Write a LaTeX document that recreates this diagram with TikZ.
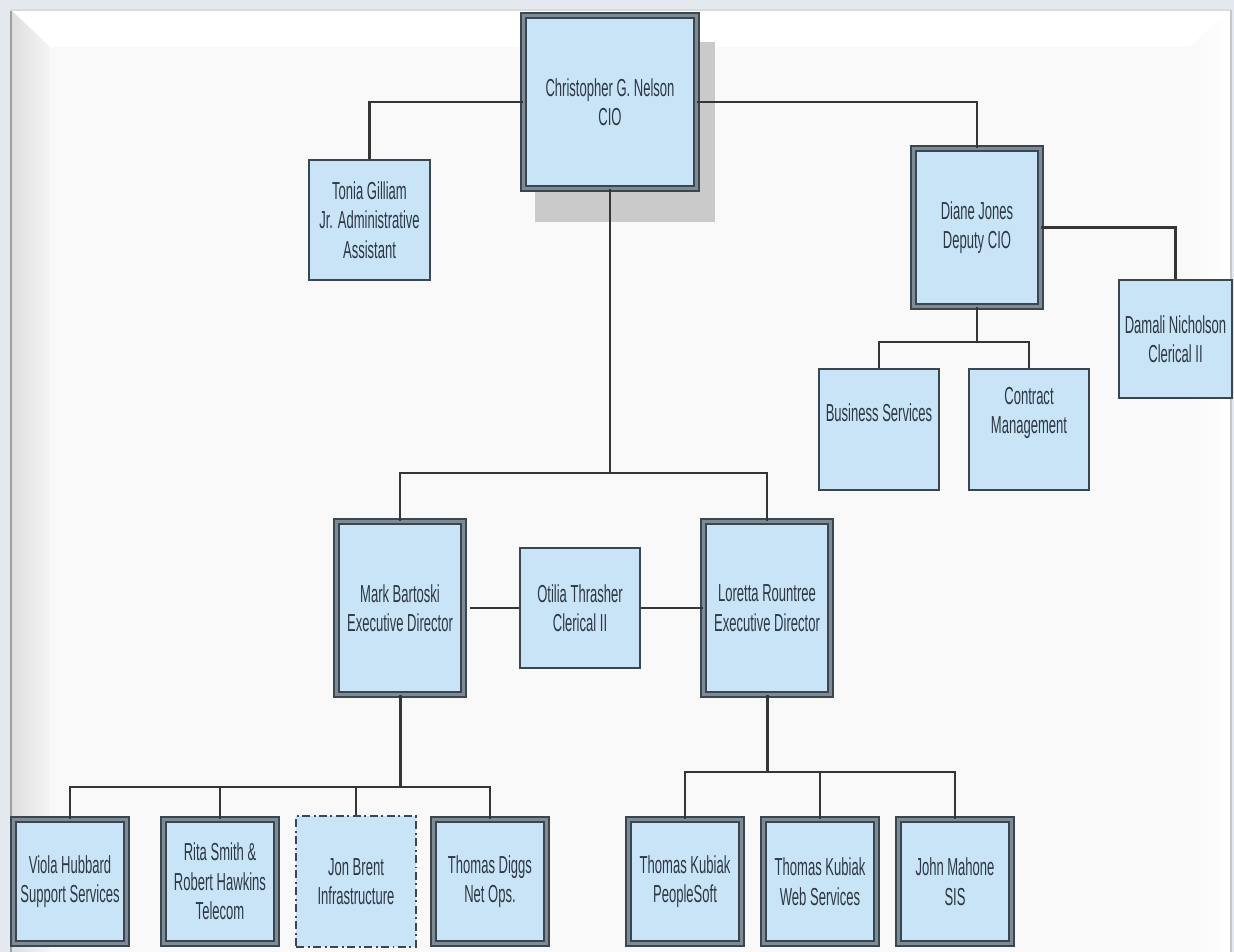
\documentclass[tikz,border=0pt]{standalone}
\usepackage{fontspec}
\setmainfont{Liberation Sans}[FakeStretch=0.53]
\definecolor{bg}{HTML}{E3E9EE}
\definecolor{boxfill}{HTML}{C9E4F7}
\definecolor{edgec}{HTML}{3A4650}
\definecolor{dblmid}{HTML}{7E8A94}
\definecolor{txt}{HTML}{2C3843}
\definecolor{connc}{HTML}{353535}
\definecolor{shadowc}{HTML}{CACACA}
\definecolor{inner}{HTML}{F9F9F9}
\tikzset{
  lbl/.style={align=center, text=txt, font=\fontsize{14}{16.8}\selectfont, inner sep=0pt},
  sbox/.style={lbl, draw=edgec, line width=0.045cm, fill=boxfill},
  dbox/.style={lbl, draw=edgec, line width=0.04cm, double=dblmid, double distance=0.05cm, fill=boxfill},
  ddbox/.style={lbl, draw=edgec, line width=0.045cm, fill=boxfill, dash pattern=on 0.16cm off 0.07cm on 0.04cm off 0.07cm},
  conn/.style={draw=connc, line width=0.045cm},
  trunk/.style={draw=connc, line width=0.06cm}
}
\begin{document}
\begin{tikzpicture}[x=0.02cm,y=-0.02cm]
\useasboundingbox (0,0) rectangle (1234,952);
% background panel
\fill[bg] (0,0) rectangle (1234,952);
\fill[white] (10,10) rectangle (1231,952);
\shade[left color=black!13, right color=black!4] (11,10) -- (50,47) -- (50,952) -- (11,952) -- cycle;
\shade[left color=inner, right color=white] (1190,47) -- (1231,10) -- (1231,952) -- (1190,952) -- cycle;
\fill[inner] (50,47) rectangle (1190,952);
\draw[black!38, line width=0.04cm] (11,10) -- (11,952);
\draw[black!14, line width=0.03cm] (10,10) -- (1231,10);
\draw[black!22, line width=0.03cm] (1231,10) -- (1231,952);
% shadow of CIO
\fill[shadowc] (535,42) rectangle (715,222);
% nodes
\node[dbox, minimum width=3.46cm, minimum height=3.46cm] (cio) at (610,102) {Christopher G. Nelson\\CIO};
\node[sbox, minimum width=2.42cm, minimum height=2.4cm] (tonia) at (369.5,220) {Tonia Gilliam\\Jr. Administrative\\Assistant};
\node[dbox, minimum width=2.54cm, minimum height=3.16cm] (diane) at (977,227.5) {Diane Jones\\Deputy CIO};
\node[sbox, minimum width=2.26cm, minimum height=2.36cm] (damali) at (1175.5,339) {Damali Nicholson\\Clerical II};
\node[sbox, minimum width=2.4cm, minimum height=2.42cm] (bus) at (879,429.5) {};
\node[lbl] (bustext) at (879,413) {Business Services};
\node[sbox, minimum width=2.4cm, minimum height=2.42cm] (con) at (1029,429.5) {};
\node[lbl] (context) at (1029,413) {Contract\\Management};
\node[dbox, minimum width=2.54cm, minimum height=3.46cm] (mark) at (400,608) {Mark Bartoski\\Executive Director};
\node[sbox, minimum width=2.4cm, minimum height=2.4cm] (otilia) at (580,608) {Otilia Thrasher\\Clerical II};
\node[dbox, minimum width=2.54cm, minimum height=3.46cm] (loretta) at (767,608) {Loretta Rountree\\Executive Director};
\node[dbox, minimum width=2.26cm, minimum height=2.48cm] (viola) at (70,881.5) {Viola Hubbard\\Support Services};
\node[dbox, minimum width=2.26cm, minimum height=2.48cm] (rita) at (220,881.5) {Rita Smith \&\\Robert Hawkins\\Telecom};
\node[ddbox, minimum width=2.4cm, minimum height=2.62cm] (jon) at (356,881.5) {Jon Brent\\Infrastructure};
\node[dbox, minimum width=2.26cm, minimum height=2.48cm] (diggs) at (490,881.5) {Thomas Diggs\\Net Ops.};
\node[dbox, minimum width=2.26cm, minimum height=2.48cm] (ps) at (685,881.5) {Thomas Kubiak\\PeopleSoft};
\node[dbox, minimum width=2.26cm, minimum height=2.48cm] (web) at (820,881.5) {Thomas Kubiak\\Web Services};
\node[dbox, minimum width=2.26cm, minimum height=2.48cm] (sis) at (955,881.5) {John Mahone\\SIS};
% junction points
\coordinate (dj) at (977,342);
\coordinate (cj) at (610,473);
\coordinate (mj) at (400,787);
\coordinate (lj) at (767,772);
% connectors
\draw[conn] (cio.west) -| (tonia.north);
\draw[conn] (cio.east) -| (diane.north);
\draw[conn] (diane.east) -| (damali.north);
\draw[conn] (diane.south) -- (dj);
\draw[conn] (bus.north) |- (dj) -| (con.north);
\draw[conn] (cio.south) -- (cj);
\draw[conn] (mark.north) |- (cj) -| (loretta.north);
\draw[conn, shorten <=0.12cm] (mark.east) -- (otilia.west);
\draw[conn] (otilia.east) -- (loretta.west);
\draw[trunk] (mark.south) -- (mj);
\draw[conn] (viola.north) |- (mj) -| (diggs.north);
\draw[conn] (rita.north) -- (rita.north |- mj);
\draw[conn] (jon.north) -- (jon.north |- mj);
\draw[trunk] (loretta.south) -- (lj);
\draw[conn] (ps.north) |- (lj) -| (sis.north);
\draw[conn] (web.north) -- (web.north |- lj);
\end{tikzpicture}
\end{document}
